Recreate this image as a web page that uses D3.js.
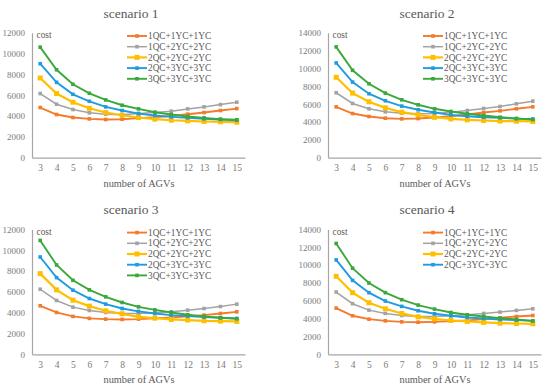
<!DOCTYPE html>
<html>
<head>
<meta charset="utf-8">
<script src="https://cdn.jsdelivr.net/npm/d3@7"></script>
<style>
  body { margin: 0; background: #fff; }
  svg text { font-family: "Liberation Serif", "Times New Roman", Tinos, "DejaVu Serif", serif; }
</style>
</head>
<body>
<div id="chart"></div>
<script>
var width = 550;
var height = 389;
var serifFont = "'Liberation Serif', 'Times New Roman', Tinos, 'DejaVu Serif', serif";

// x values (number of AGVs)
var agvs = [3, 4, 5, 6, 7, 8, 9, 10, 11, 12, 13, 14, 15];

var seriesNames = ["1QC+1YC+1YC", "1QC+2YC+2YC", "2QC+2YC+2YC", "2QC+3YC+3YC", "3QC+3YC+3YC"];
var seriesColors = ["#f47a2c", "#a3a3a3", "#ffbf00", "#1f9be0", "#3aa83a"];

// scenario 1
var s1_111 = [4820, 4150, 3860, 3730, 3670, 3700, 3800, 3890, 4020, 4180, 4340, 4530, 4720];
var s1_122 = [6160, 5140, 4630, 4310, 4180, 4120, 4240, 4340, 4470, 4690, 4880, 5100, 5330];
var s1_222 = [7660, 6160, 5330, 4750, 4340, 4080, 3860, 3700, 3600, 3540, 3480, 3450, 3410];
var s1_233 = [9030, 7240, 6090, 5420, 4880, 4530, 4240, 4050, 3920, 3830, 3730, 3670, 3600];
var s1_333 = [10620, 8450, 7050, 6190, 5550, 5040, 4690, 4370, 4150, 3960, 3830, 3700, 3640];

// scenario 2
var s2_111 = [5700, 4950, 4620, 4430, 4350, 4390, 4500, 4650, 4840, 5070, 5250, 5480, 5700];
var s2_122 = [7280, 6080, 5480, 5140, 4990, 4920, 4950, 5100, 5290, 5520, 5740, 6040, 6340];
var s2_222 = [9010, 7240, 6270, 5590, 5100, 4800, 4540, 4350, 4240, 4170, 4110, 4090, 4070];
var s2_233 = [10620, 8480, 7170, 6380, 5780, 5370, 5070, 4800, 4650, 4540, 4470, 4380, 4340];
var s2_333 = [12420, 9800, 8290, 7240, 6490, 5930, 5480, 5180, 4920, 4730, 4540, 4390, 4280];

// scenario 3
var s3_111 = [4660, 4020, 3640, 3450, 3380, 3350, 3380, 3450, 3540, 3640, 3760, 3920, 4080];
var s3_122 = [6250, 5170, 4530, 4210, 4020, 3920, 3920, 3990, 4080, 4240, 4400, 4590, 4820];
var s3_222 = [7750, 6190, 5200, 4630, 4180, 3890, 3600, 3480, 3350, 3290, 3220, 3190, 3160];
var s3_233 = [9350, 7370, 6160, 5360, 4820, 4400, 4120, 3920, 3760, 3670, 3570, 3510, 3450];
var s3_333 = [10940, 8580, 7110, 6190, 5520, 4980, 4560, 4270, 4020, 3800, 3640, 3510, 3410];

// scenario 4
var s4_111 = [5180, 4320, 3940, 3750, 3640, 3600, 3640, 3720, 3790, 3940, 4090, 4240, 4350];
var s4_122 = [6980, 5670, 4950, 4580, 4350, 4240, 4240, 4320, 4430, 4580, 4730, 4920, 5100];
var s4_222 = [8740, 6910, 5780, 5100, 4580, 4200, 3980, 3790, 3680, 3570, 3490, 3450, 3420];
var s4_233 = [10580, 8290, 6910, 5970, 5370, 4880, 4540, 4320, 4130, 4020, 3900, 3830, 3750];
var s4_333 = [12420, 9650, 7990, 6910, 6120, 5520, 5070, 4690, 4430, 4240, 4050, 3900, 3750];

var ticks12 = [0, 2000, 4000, 6000, 8000, 10000, 12000];
var ticks14 = [0, 2000, 4000, 6000, 8000, 10000, 12000, 14000];

var panels = [
  { title: "scenario 1", ox: 0, oy: 0, max: 12000, ticks: ticks12, legendCount: 5,
    series: [s1_111, s1_122, s1_222, s1_233, s1_333] },
  { title: "scenario 2", ox: 296, oy: 0, max: 14000, ticks: ticks14, legendCount: 5,
    series: [s2_111, s2_122, s2_222, s2_233, s2_333] },
  { title: "scenario 3", ox: 0, oy: 196.6, max: 12000, ticks: ticks12, legendCount: 5,
    series: [s3_111, s3_122, s3_222, s3_233, s3_333] },
  { title: "scenario 4", ox: 296, oy: 196.6, max: 14000, ticks: ticks14, legendCount: 4,
    series: [s4_111, s4_122, s4_222, s4_233, s4_333] }
];

var svg = d3.select("#chart")
  .append("svg")
  .attr("width", width)
  .attr("height", height)
  .style("font-family", serifFont);

// plot area inside a panel
var plotLeft = 32;
var plotRight = 245;
var plotTop = 32.8;
var plotBottom = 157.7;

panels.forEach(function(p) {
  var g = svg.append("g")
    .attr("transform", `translate(${p.ox}, ${p.oy})`);

  var xScale = d3.scalePoint()
    .domain(agvs)
    .range([plotLeft, plotRight])
    .padding(0.5);

  var yScale = d3.scaleLinear()
    .domain([0, p.max])
    .range([plotBottom, plotTop]);

  var yAxis = d3.axisLeft(yScale)
    .tickValues(p.ticks)
    .tickFormat(d3.format("d"))
    .tickSize(0)
    .tickPadding(7);
  var xAxis = d3.axisBottom(xScale).tickSize(0).tickPadding(7);

  var yg = g.append("g")
    .attr("transform", `translate(${plotLeft}, 0)`)
    .call(yAxis);
  var xg = g.append("g")
    .attr("transform", `translate(0, ${plotBottom})`)
    .call(xAxis);

  [yg, xg].forEach(function(ax) {
    ax.attr("font-family", serifFont);
    ax.select(".domain").attr("stroke", "#a6a6a6").attr("stroke-width", 1.2);
    ax.selectAll("text")
      .style("font-family", serifFont)
      .style("font-size", "9px")
      .attr("fill", "#7a7a7a");
  });
  xg.selectAll("text").style("font-size", "9.5px");

  // title
  g.append("text")
    .attr("x", 131)
    .attr("y", 17.5)
    .attr("text-anchor", "middle")
    .style("font-family", serifFont)
    .style("font-size", "13.5px")
    .attr("fill", "#595959")
    .text(p.title);

  // x axis label
  g.append("text")
    .attr("x", 139)
    .attr("y", 186.5)
    .attr("text-anchor", "middle")
    .style("font-family", serifFont)
    .style("font-size", "10.3px")
    .attr("fill", "#595959")
    .text("number of AGVs");

  // y axis label
  g.append("text")
    .attr("x", 36.5)
    .attr("y", 38)
    .style("font-family", serifFont)
    .style("font-size", "9.3px")
    .attr("fill", "#595959")
    .text("cost");

  var line = d3.line()
    .x(function(d, i) { return xScale(agvs[i]); })
    .y(function(d) { return yScale(d); });

  p.series.forEach(function(values, k) {
    var big = (k === 2);
    g.append("path")
      .datum(values)
      .attr("fill", "none")
      .attr("stroke", seriesColors[k])
      .attr("stroke-width", big ? 2.2 : (k === 1 ? 1.5 : 1.9))
      .attr("d", line);

    var ms = big ? 5 : 3.6;
    g.selectAll(".m" + k)
      .data(values)
      .enter()
      .append("rect")
      .attr("class", "m" + k)
      .attr("x", function(d, i) { return xScale(agvs[i]) - ms / 2; })
      .attr("y", function(d) { return yScale(d) - ms / 2; })
      .attr("width", ms)
      .attr("height", ms)
      .attr("fill", seriesColors[k]);
  });

  // legend
  for (var k = 0; k < p.legendCount; k++) {
    var ly = 36 + k * 10.7;
    var big = (k === 2);
    var ms = big ? 5 : 3.6;
    g.append("line")
      .attr("x1", 127).attr("x2", 147)
      .attr("y1", ly).attr("y2", ly)
      .attr("stroke", seriesColors[k])
      .attr("stroke-width", big ? 2.2 : (k === 1 ? 1.5 : 1.9));
    g.append("rect")
      .attr("x", 137 - ms / 2).attr("y", ly - ms / 2)
      .attr("width", ms).attr("height", ms)
      .attr("fill", seriesColors[k]);
    g.append("text")
      .attr("x", 148)
      .attr("y", ly + 3.2)
      .style("font-family", serifFont)
      .style("font-size", "9.3px")
      .attr("fill", "#595959")
      .text(seriesNames[k]);
  }
});
</script>
</body>
</html>
